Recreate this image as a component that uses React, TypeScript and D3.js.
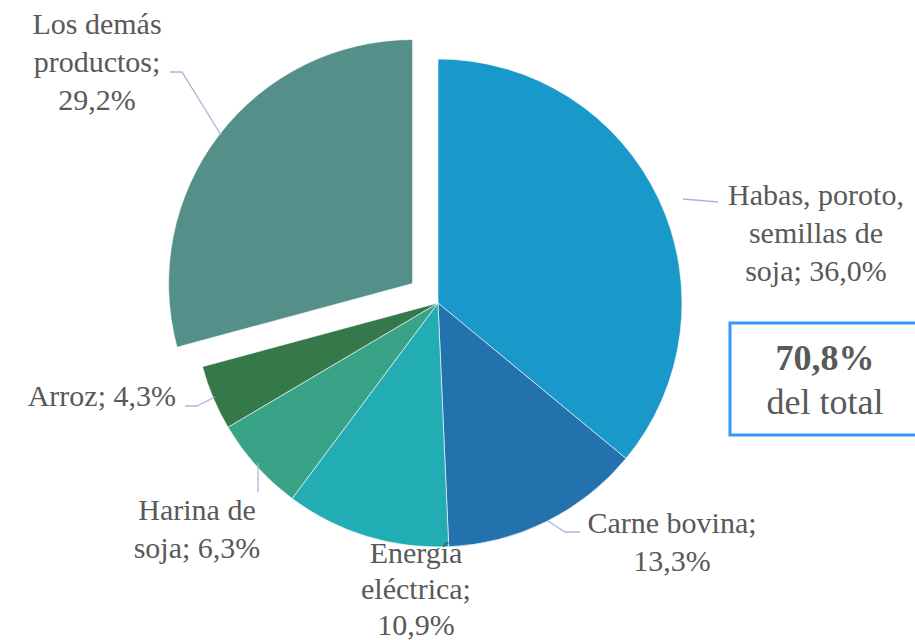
import React, { useEffect, useRef } from 'react';
import * as d3 from 'd3';

// Participación en las exportaciones (%)
const categories = [
  'Habas, poroto, semillas de soja',
  'Carne bovina',
  'Energía eléctrica',
  'Harina de soja',
  'Arroz',
  'Los demás productos',
];
const shares = [36.0, 13.3, 10.9, 6.3, 4.3, 29.2];
const colors = ['#1899c9', '#2372ae', '#22adb5', '#38a386', '#35784a', '#548f8a'];
// label text split in lines
const labelLines = [
  ['Habas, poroto,', 'semillas de', 'soja; 36,0%'],
  ['Carne bovina;', '13,3%'],
  ['Energía', 'eléctrica;', '10,9%'],
  ['Harina de', 'soja; 6,3%'],
  ['Arroz; 4,3%'],
  ['Los demás', 'productos;', '29,2%'],
];
const totalText = ['70,8%', 'del total'];

const FONT = "'Liberation Serif', 'Times New Roman', serif";

const App: React.FC = () => {
  const svgRef = useRef<SVGSVGElement>(null);

  useEffect(() => {
    if (!svgRef.current) return;
    const width = 915;
    const height = 640;
    const cx = 438;
    const cy = 303;
    const radius = 244;
    const explode = 32;

    const svg = d3.select(svgRef.current);
    svg.selectAll('*').remove();
    svg.attr('viewBox', `0 0 ${width} ${height}`);

    const pie = d3.pie<number>().sort(null).value(d => d);
    const arcs = pie(shares);
    const arc = d3.arc<d3.PieArcDatum<number>>().innerRadius(0).outerRadius(radius);

    const g = svg.append('g').attr('transform', `translate(${cx},${cy})`);

    g.selectAll('path')
      .data(arcs)
      .enter()
      .append('path')
      .attr('d', arc as any)
      .attr('fill', (_, i) => colors[i])
      .attr('stroke', '#ffffff')
      .attr('stroke-width', 0.6)
      .attr('transform', (d, i) => {
        if (i !== categories.length - 1) return null;
        const mid = (d.startAngle + d.endAngle) / 2;
        return `translate(${Math.sin(mid) * explode},${-Math.cos(mid) * explode})`;
      });

    // label layout: anchor x, first baseline y, line step, leader line points (absolute)
    const layout: { x: number; y: number; step: number; anchor: string; leader: [number, number][] }[] = [
      { x: 816, y: 205, step: 38, anchor: 'middle', leader: [[683, 199], [718, 202]] },
      { x: 672, y: 533, step: 38, anchor: 'middle', leader: [[548, 521], [565, 532], [580, 532]] },
      { x: 416, y: 563, step: 36, anchor: 'middle', leader: [] },
      { x: 197, y: 520, step: 38, anchor: 'middle', leader: [[258, 463], [258, 492]] },
      { x: 176, y: 406, step: 38, anchor: 'end', leader: [[215, 397], [197, 406], [185, 406]] },
      { x: 97, y: 34, step: 38, anchor: 'middle', leader: [[221, 135], [182, 72], [170, 72]] },
    ];

    const line = d3.line<[number, number]>();
    layout.forEach((l, i) => {
      if (l.leader.length) {
        svg.append('path')
          .attr('d', line(l.leader) as string)
          .attr('fill', 'none')
          .attr('stroke', '#a9b6d9')
          .attr('stroke-width', 1.3);
      }
      const t = svg.append('text')
        .attr('x', l.x)
        .attr('y', l.y)
        .attr('text-anchor', l.anchor)
        .style('font-family', FONT)
        .style('font-size', '30px')
        .attr('fill', '#595959');
      labelLines[i].forEach((s, j) => {
        t.append('tspan')
          .attr('x', l.x)
          .attr('dy', j === 0 ? 0 : l.step)
          .style('font-family', FONT)
          .text(s);
      });
    });

    // total box
    svg.append('rect')
      .attr('x', 730)
      .attr('y', 323)
      .attr('width', 200)
      .attr('height', 112)
      .attr('fill', '#ffffff')
      .attr('stroke', '#3399ff')
      .attr('stroke-width', 3);
    svg.append('text')
      .attr('x', 825)
      .attr('y', 370)
      .attr('text-anchor', 'middle')
      .style('font-family', FONT)
      .style('font-size', '36px')
      .style('font-weight', 'bold')
      .attr('fill', '#595959')
      .text(totalText[0]);
    svg.append('text')
      .attr('x', 825)
      .attr('y', 414)
      .attr('text-anchor', 'middle')
      .style('font-family', FONT)
      .style('font-size', '36px')
      .attr('fill', '#595959')
      .text(totalText[1]);
  }, []);

  return (
    <svg
      ref={svgRef}
      width={915}
      height={640}
      style={{ position: 'absolute', left: 0, top: 0, background: '#ffffff', fontFamily: FONT }}
    />
  );
};

export default App;
